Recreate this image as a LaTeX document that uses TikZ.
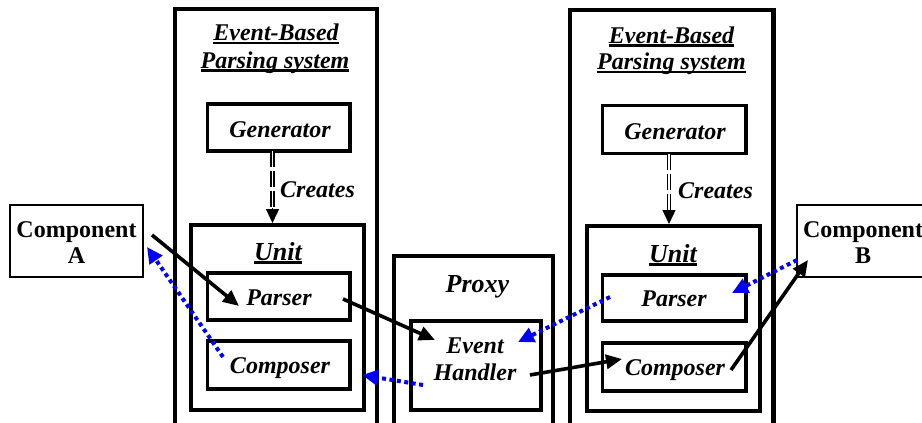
\documentclass[tikz,border=0pt]{standalone}
\usepackage{fontspec}
\setmainfont{Liberation Serif}
\usetikzlibrary{arrows.meta}
\newcommand{\ulword}[1]{\sbox0{#1}\rlap{\rule[-3.5pt]{\wd0}{2.2pt}}\usebox0}
\begin{document}
\begin{tikzpicture}[x=1pt,y=-1pt,
  sysbox/.style={draw, line width=4.5pt, inner sep=0pt, outer sep=0pt},
  unitbox/.style={draw, line width=4pt, inner sep=0pt, outer sep=0pt},
  partbox/.style={draw, line width=3.8pt, inner sep=0pt, outer sep=0pt},
  compbox/.style={draw, line width=2pt, inner sep=0pt, outer sep=0pt},
  txt/.style={font=\bfseries\itshape\fontsize{24}{28}\selectfont, inner sep=0pt, anchor=base},
  bigtxt/.style={font=\bfseries\itshape\fontsize{26}{30}\selectfont, inner sep=0pt, anchor=base},
  ctxt/.style={font=\bfseries\fontsize{24}{28}\selectfont, inner sep=0pt, anchor=base},
  blk/.style={draw=black, line width=3.6pt, -{Triangle[length=16pt,width=14pt]}},
  bdot/.style={draw=blue, line width=4pt, dash pattern=on 4pt off 3.5pt, -{Triangle[length=16pt,width=15pt,fill=blue]}},
  dblline/.style={draw=black, line width=1.4pt, double=white, double distance=1.6pt, dash pattern=on 16pt off 4pt},
  dbltip/.style={draw=black, line width=1.4pt, -{Triangle[length=14pt,width=13pt]}}
]
\useasboundingbox (0,0) rectangle (922,423);
\clip (0,0) rectangle (922,423);

% containers
\node[sysbox, minimum width=202pt, minimum height=441pt] (sysL) at (276,229.5) {};
\node[sysbox, minimum width=203.5pt, minimum height=440pt] (sysR) at (671.75,230) {};
\node[partbox, minimum width=142.5pt, minimum height=47pt] (genL) at (278.75,127.5) {};
\node[partbox, minimum width=143.5pt, minimum height=48pt] (genR) at (674.25,129.5) {};
\node[unitbox, minimum width=173pt, minimum height=184.5pt] (unitL) at (277.5,317.25) {};
\node[unitbox, minimum width=173pt, minimum height=185pt] (unitR) at (673.5,318.5) {};
\node[partbox, minimum width=142.5pt, minimum height=47pt] (parserL) at (278.75,296.5) {};
\node[partbox, minimum width=142.5pt, minimum height=48pt] (composerL) at (278.75,365) {};
\node[partbox, minimum width=143.5pt, minimum height=46pt] (parserR) at (674.25,298) {};
\node[partbox, minimum width=143.5pt, minimum height=48pt] (composerR) at (674.25,367) {};
\node[unitbox, minimum width=158.5pt, minimum height=194pt] (proxy) at (473.25,353) {};
\node[unitbox, minimum width=130pt, minimum height=89.5pt] (handler) at (475.5,365.25) {};
\node[compbox, minimum width=133pt, minimum height=72pt] (compA) at (76.5,241) {};
\node[compbox, minimum width=132pt, minimum height=72pt] (compB) at (863,241) {};

% texts
\node[txt] (tL1) at (276,41) {\ulword{Event-Based}};
\node[txt] (tL2) at (275,68) {\ulword{Parsing system}};
\node[txt] (tR1) at (671.5,43) {\ulword{Event-Based}};
\node[txt] (tR2) at (671.5,69.5) {\ulword{Parsing system}};
\node[txt] (gLt) at (280,137) {Generator};
\node[txt] (gRt) at (675,139) {Generator};
\node[txt, anchor=base west] (crL) at (280,197) {Creates};
\node[txt, anchor=base west] (crR) at (678,198) {Creates};
\node[bigtxt] (uLt) at (278,260) {\ulword{Unit}};
\node[bigtxt] (uRt) at (673,262) {\ulword{Unit}};
\node[txt] (pLt) at (279,305) {Parser};
\node[txt] (pRt) at (674,306.5) {Parser};
\node[txt] (cLt) at (280,373) {Composer};
\node[txt] (cRt) at (675,375) {Composer};
\node[bigtxt] (pxt) at (477.5,292) {Proxy};
\node[txt] (eh1) at (475,353) {Event};
\node[txt] (eh2) at (475,380) {Handler};
\node[ctxt] (ca1) at (76.5,237) {Component};
\node[ctxt] (ca2) at (76.5,263) {A};
\node[ctxt] (cb1) at (863,237) {Component};
\node[ctxt] (cb2) at (863,263) {B};

% creates arrows
\coordinate (dL) at (272.5,208);
\coordinate (dR) at (669,210);
\draw[dblline] (dL |- genL.south) -- (dL);
\draw[dbltip] (dL) -- ([yshift=2pt]dL |- unitL.north);
\draw[dblline] (dR |- genR.south) -- (dR);
\draw[dbltip] (dR) -- ([yshift=2pt]dR |- unitR.north);

% connector end points
\coordinate (a1s) at (152,235);  \coordinate (a1e) at (239,306);
\coordinate (a2s) at (343,299);  \coordinate (a2e) at (435,340);
\coordinate (a3s) at (530,375);  \coordinate (a3e) at (622,359);
\coordinate (a4s) at (731,370);  \coordinate (a4e) at (808,260);
\coordinate (b1s) at (610,297);  \coordinate (b1e) at (518,342);
\coordinate (b2s) at (797,260);  \coordinate (b2e) at (732,293);
\coordinate (b3s) at (423,385);  \coordinate (b3e) at (362,375);
\coordinate (b4s) at (223,357);  \coordinate (b4e) at (147,247);

\draw[blk] (a1s) -- (a1e);
\draw[blk] (a2s) -- (a2e);
\draw[blk] (a3s) -- (a3e);
\draw[blk] (a4s) -- (a4e);
\draw[bdot] (b1s) -- (b1e);
\draw[bdot] (b2s) -- (b2e);
\draw[bdot] (b3s) -- (b3e);
\draw[bdot] (b4s) -- (b4e);
\end{tikzpicture}
\end{document}
